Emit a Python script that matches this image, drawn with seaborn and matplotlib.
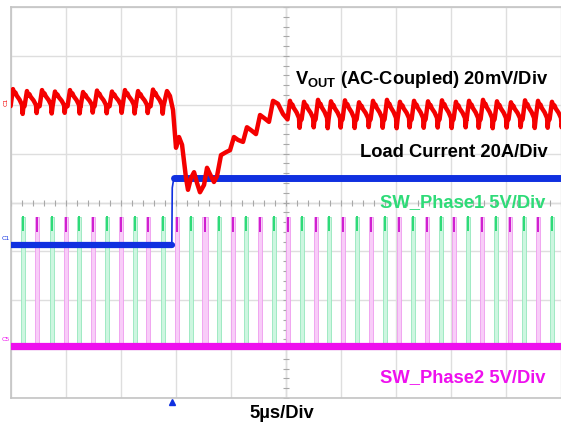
import numpy as np
import matplotlib
matplotlib.use("Agg")
import matplotlib.pyplot as plt
import seaborn as sns

# time axis in microseconds (5 us/div, 10 div), y axis in screen divisions (8 div)
# ---- VOUT ripple before the load step (peak times, peak level, trough level)
pre_peak_t = [0.18, 1.45, 2.82, 4.00, 5.36, 6.55, 7.82, 9.18, 10.36, 11.55, 12.91]
pre_peak_y = [6.32, 6.28, 6.30, 6.27, 6.30, 6.26, 6.29, 6.27, 6.30, 6.28, 6.31]
pre_trough_y = 5.97

# ---- VOUT transient dip after the load step
dip_t = [14.18, 14.45, 14.73, 15.00, 15.27, 15.55, 15.91, 16.09, 16.36, 16.64, 16.91,
         17.18, 17.55, 17.82, 18.09, 18.45, 18.73, 19.09, 19.55, 19.91, 20.27, 20.64,
         21.09, 21.45, 21.82, 22.27, 22.64, 23.00, 23.45, 23.82, 24.27, 24.73]
dip_y = [6.28, 6.18, 5.89, 5.12, 5.34, 5.18, 4.50, 4.26, 4.50, 4.62, 4.40,
         4.21, 4.36, 4.71, 4.58, 4.42, 4.54, 4.97, 5.03, 5.07, 5.34, 5.28,
         5.24, 5.54, 5.48, 5.40, 5.79, 5.73, 5.65, 6.08, 6.02, 5.81]

# ---- VOUT ripple after recovery
post_peak_t = [25.36, 26.64, 27.91, 29.09, 30.36, 31.64, 32.91, 34.18, 35.36, 36.64,
               37.91, 39.18, 40.45, 41.64, 42.91, 44.18, 45.45, 46.73, 47.91, 49.18]
post_peak_y = [6.08, 6.06, 6.10, 6.07, 6.09, 6.05, 6.08, 6.10, 6.06, 6.08,
               6.07, 6.09, 6.06, 6.08, 6.10, 6.07, 6.05, 6.09, 6.08, 6.06]
post_trough_y = 5.70

# shape of one ripple cycle, relative to its peak (us, fraction of peak-trough)
cycle_dt = [-0.22, 0.0, 0.12, 0.22, 0.34, 0.60, 0.82, 0.88, 0.95]
cycle_lv = [0.0, 1.0, 0.72, 0.80, 0.62, 0.38, 0.08, -0.45, 0.0]

# ---- load current
load_t = [0.0, 14.62]
load_y = [3.13, 3.13]
load_step_t = [14.62, 14.66, 14.80]
load_step_y = [3.13, 4.30, 4.50]
load_hi_t = [14.80, 50.0]
load_hi_y = [4.50, 4.50]

# ---- switch nodes
sw_base = 1.06
sw_top = 3.70
ph1_t = [1.09, 3.73, 6.18, 8.73, 11.27, 13.82, 16.36, 18.91, 21.36, 23.91,
         26.45, 28.91, 31.45, 34.00, 36.55, 39.09, 41.55, 44.09, 46.64, 49.18]
ph1_w = [0.30, 0.30, 0.30, 0.30, 0.30, 0.30, 0.42, 0.42, 0.34, 0.30,
         0.30, 0.30, 0.30, 0.30, 0.30, 0.30, 0.30, 0.30, 0.30, 0.30]
ph2_t = [2.36, 5.00, 7.45, 10.00, 12.45, 15.09, 17.64, 20.18, 22.64, 25.18,
         27.73, 30.18, 32.73, 35.27, 37.82, 40.27, 42.82, 45.36, 47.91]
ph2_w = [0.30, 0.30, 0.30, 0.30, 0.30, 0.42, 0.48, 0.38, 0.30, 0.30,
         0.30, 0.30, 0.30, 0.30, 0.30, 0.30, 0.30, 0.30, 0.30]

trigger_t = 14.64

RED = "#f40000"
BLUE = "#1030e0"
MAG = "#ee10ee"
GREEN = "#2edb78"


def ripple(peaks_t, peaks_y, trough):
    xs, ys = [], []
    for pt, py in zip(peaks_t, peaks_y):
        for dt, lv in zip(cycle_dt, cycle_lv):
            xs.append(pt + dt)
            ys.append(trough + lv * (py - trough))
    return xs, ys


sns.set_theme(style="white")
plt.rcParams["font.family"] = ["Liberation Sans", "DejaVu Sans"]
plt.rcParams["mathtext.fontset"] = "custom"
plt.rcParams["mathtext.bf"] = "Liberation Sans:bold"
plt.rcParams["mathtext.rm"] = "Liberation Sans:bold"

fig = plt.figure(figsize=(5.61, 4.24), dpi=100)
ax = fig.add_axes([11 / 561, 26 / 424, 550 / 561, 391 / 424])

ax.set_xlim(0, 50)
ax.set_ylim(0, 8)
ax.set_xticks(np.arange(0, 51, 5))
ax.set_yticks(np.arange(0, 9, 1))
ax.tick_params(length=0, labelbottom=False, labelleft=False)
ax.grid(True, color="#dedede", lw=1)
ax.set_axisbelow(True)
for side in ["top", "left", "bottom"]:
    ax.spines[side].set_color("#c4c4c4")
    ax.spines[side].set_linewidth(1.2)
ax.spines["right"].set_visible(False)

# centre graticule with minor ticks
ax.axhline(4, color="#b8b8b8", lw=0.9, zorder=0.5)
ax.axvline(25, color="#b8b8b8", lw=0.9, zorder=0.5)
ax.plot(np.arange(0, 50.01, 1), np.full(51, 4.0), ls="none", marker="|",
        ms=4, mew=0.8, color="#a8a8a8", zorder=0.6)
ax.plot(np.full(41, 25.0), np.arange(0, 8.01, 0.2), ls="none", marker="_",
        ms=4, mew=0.8, color="#a8a8a8", zorder=0.6)

# switch pulses (light band + darker top)
ax.bar(ph1_t, sw_top - sw_base, bottom=sw_base, width=ph1_w, color="#cdf6e0",
       edgecolor="#94e8bc", linewidth=0.6, zorder=2)
ax.bar(ph2_t, sw_top - sw_base, bottom=sw_base, width=ph2_w, color="#f8cdf8",
       edgecolor="#ee9cee", linewidth=0.6, zorder=2)
ax.bar(ph1_t, 0.30, bottom=sw_top - 0.28, width=0.24, color=GREEN, linewidth=0, zorder=2.2)
ax.bar(ph2_t, 0.30, bottom=sw_top - 0.30, width=0.24, color="#d020d0", linewidth=0, zorder=2.2)

# switch baselines
sns.lineplot(x=[0, 50], y=[sw_base - 0.02, sw_base - 0.02], ax=ax, color=GREEN,
             linewidth=4.0, estimator=None, sort=False, zorder=2.5)
sns.lineplot(x=[0, 50], y=[sw_base, sw_base], ax=ax, color=MAG,
             linewidth=5.2, estimator=None, sort=False, zorder=2.6)

# load current
sns.lineplot(x=load_t, y=load_y, ax=ax, color=BLUE, linewidth=4.5,
             estimator=None, sort=False, zorder=3)
sns.lineplot(x=load_step_t, y=load_step_y, ax=ax, color=BLUE, linewidth=1.2,
             estimator=None, sort=False, zorder=3)
sns.lineplot(x=load_hi_t, y=load_hi_y, ax=ax, color=BLUE, linewidth=5.0,
             estimator=None, sort=False, zorder=3)

# VOUT
x1, y1 = ripple(pre_peak_t, pre_peak_y, pre_trough_y)
x3, y3 = ripple(post_peak_t, post_peak_y, post_trough_y)
vx = x1 + dip_t + x3
vy = y1 + dip_y + y3
sns.lineplot(x=vx, y=vy, ax=ax, color=RED, linewidth=3.2,
             estimator=None, sort=False, zorder=4)

ax.set_xlabel("")
ax.set_ylabel("")

# trigger marker
ax.plot([trigger_t], [-0.09], marker="^", ms=5, color=BLUE, clip_on=False, zorder=5)

# channel markers on the left
ax.text(-0.42, 6.05, "C1", color=RED, fontsize=4.5, rotation=90,
        ha="center", va="center", clip_on=False)
ax.text(-0.45, 3.22, "C1", color=BLUE, fontsize=4.5, ha="center", va="bottom", clip_on=False)
ax.text(-0.45, 1.15, "C5", color=MAG, fontsize=4.5, ha="center", va="bottom", clip_on=False)

fs = 13.2
ax.text(48.82, 6.42, r"$\mathbf{V_{OUT}}$ (AC-Coupled) 20mV/Div", fontsize=fs,
        fontweight="bold", color="black", ha="right", va="baseline", zorder=6)
ax.text(48.82, 4.93, "Load Current 20A/Div", fontsize=fs, fontweight="bold",
        color="black", ha="right", va="baseline", zorder=6)
ax.text(48.55, 3.91, "SW_Phase1 5V/Div", fontsize=fs, fontweight="bold",
        color=GREEN, ha="right", va="baseline", zorder=6)
ax.text(48.55, 0.33, "SW_Phase2 5V/Div", fontsize=fs, fontweight="bold",
        color=MAG, ha="right", va="baseline", zorder=6)
ax.text(24.6, -0.41, "5µs/Div", fontsize=fs, fontweight="bold",
        color="black", ha="center", va="baseline", clip_on=False)

fig.savefig("out.png", dpi=100)
